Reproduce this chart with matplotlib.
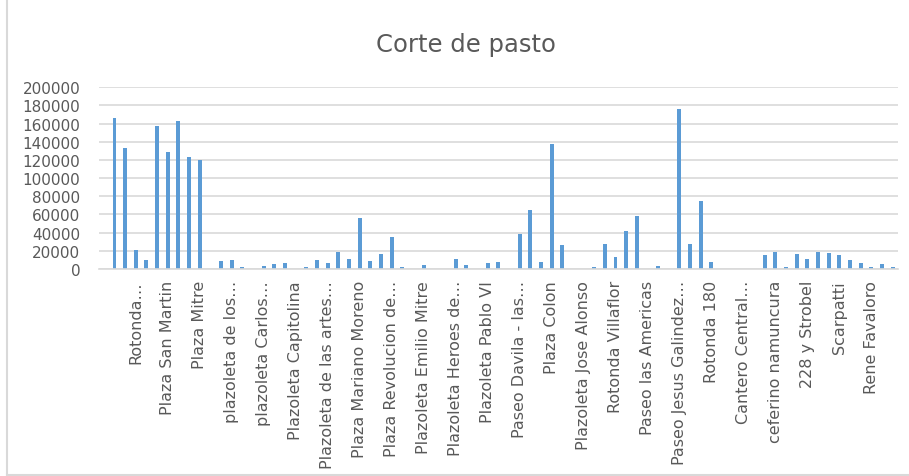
import matplotlib
matplotlib.use("Agg")
import matplotlib.pyplot as plt
from matplotlib.lines import Line2D
import numpy as np

# Values per category (75 categories, first one empty)
values = [
    0, 166200, 132800, 20900, 9900, 157000, 128400, 162900, 123600, 120300,
    0, 8400, 9900, 1800, 0, 2900, 5100, 6600, 0, 1800,
    9900, 6600, 19100, 11000, 55800, 8400, 16900, 35200, 1800, 0,
    4000, 0, 0, 11000, 4000, 0, 6600, 7700, 0, 38500,
    64900, 7700, 137600, 26000, 0, 0, 2600, 27100, 12800, 41800,
    58300, 0, 3700, 0, 176500, 27100, 75200, 7300, 0, 0,
    0, 0, 15400, 18700, 2600, 16500, 10600, 18700, 17600, 15400,
    9500, 6200, 1800, 5100, 1800,
]

# Only every third category label is shown
tick_labels = [
    "Rotonda…", "Plaza San Martin", "Plaza Mitre", "plazoleta de los…",
    "plazoleta Carlos…", "Plazoleta Capitolina", "Plazoleta de las artes…",
    "Plaza Mariano Moreno", "Plaza Revolucion de…", "Plazoleta Emilio Mitre",
    "Plazoleta Heroes de…", "Plazoleta Pablo VI", "Paseo Davila - las…",
    "Plaza Colon", "Plazoleta Jose Alonso", "Rotonda Villaflor",
    "Paseo las Americas", "Paseo Jesus Galindez…", "Rotonda 180",
    "Cantero Central…", "ceferino namuncura", "228 y Strobel",
    "Scarpatti", "Rene Favaloro",
]
yticks = [0, 20000, 40000, 60000, 80000, 100000, 120000, 140000, 160000, 180000, 200000]

plt.rcParams['font.family'] = ['DejaVu Sans']
text_color = '#595959'
grid_color = '#D9D9D9'

W, H = 909, 477
fig = plt.figure(figsize=(W / 100, H / 100), dpi=100)
ax = fig.add_axes([98.5 / W, 1 - 270 / H, (898 - 98.5) / W, (270 - 88.3) / H])

x = np.arange(len(values))
ax.bar(x, values, width=0.37, color='#5B9BD5', zorder=3)

ax.set_xlim(-0.5, len(values) - 0.5)
ax.set_ylim(0, 200000)
ax.set_yticks(yticks)
ax.set_yticklabels([str(v) for v in yticks], fontsize=11, color=text_color)
ax.yaxis.grid(True, color=grid_color, linewidth=1.2, zorder=0)

ax.set_xticks(x[3::3])
ax.set_xticklabels(tick_labels, rotation=90, fontsize=11.5, color=text_color,
                   ha='center', va='top')
ax.tick_params(axis='both', length=0)
ax.tick_params(axis='x', pad=8)
ax.tick_params(axis='y', pad=13)

for s in ['top', 'right', 'left']:
    ax.spines[s].set_visible(False)
ax.spines['bottom'].set_color(grid_color)
ax.spines['bottom'].set_linewidth(1.2)
ax.spines['bottom'].set_zorder(4)

fig.text(466 / W, 1 - 45 / H, "Corte de pasto", fontsize=17.5, color=text_color,
         ha='center', va='center')

# chart frame edges
fig.add_artist(Line2D([7 / W, 7 / W], [0, 1], color='#D9D9D9', linewidth=1.5))
fig.add_artist(Line2D([7 / W, 1], [1.5 / H, 1.5 / H], color='#D9D9D9', linewidth=1.5))

fig.savefig('out.png', dpi=100)
